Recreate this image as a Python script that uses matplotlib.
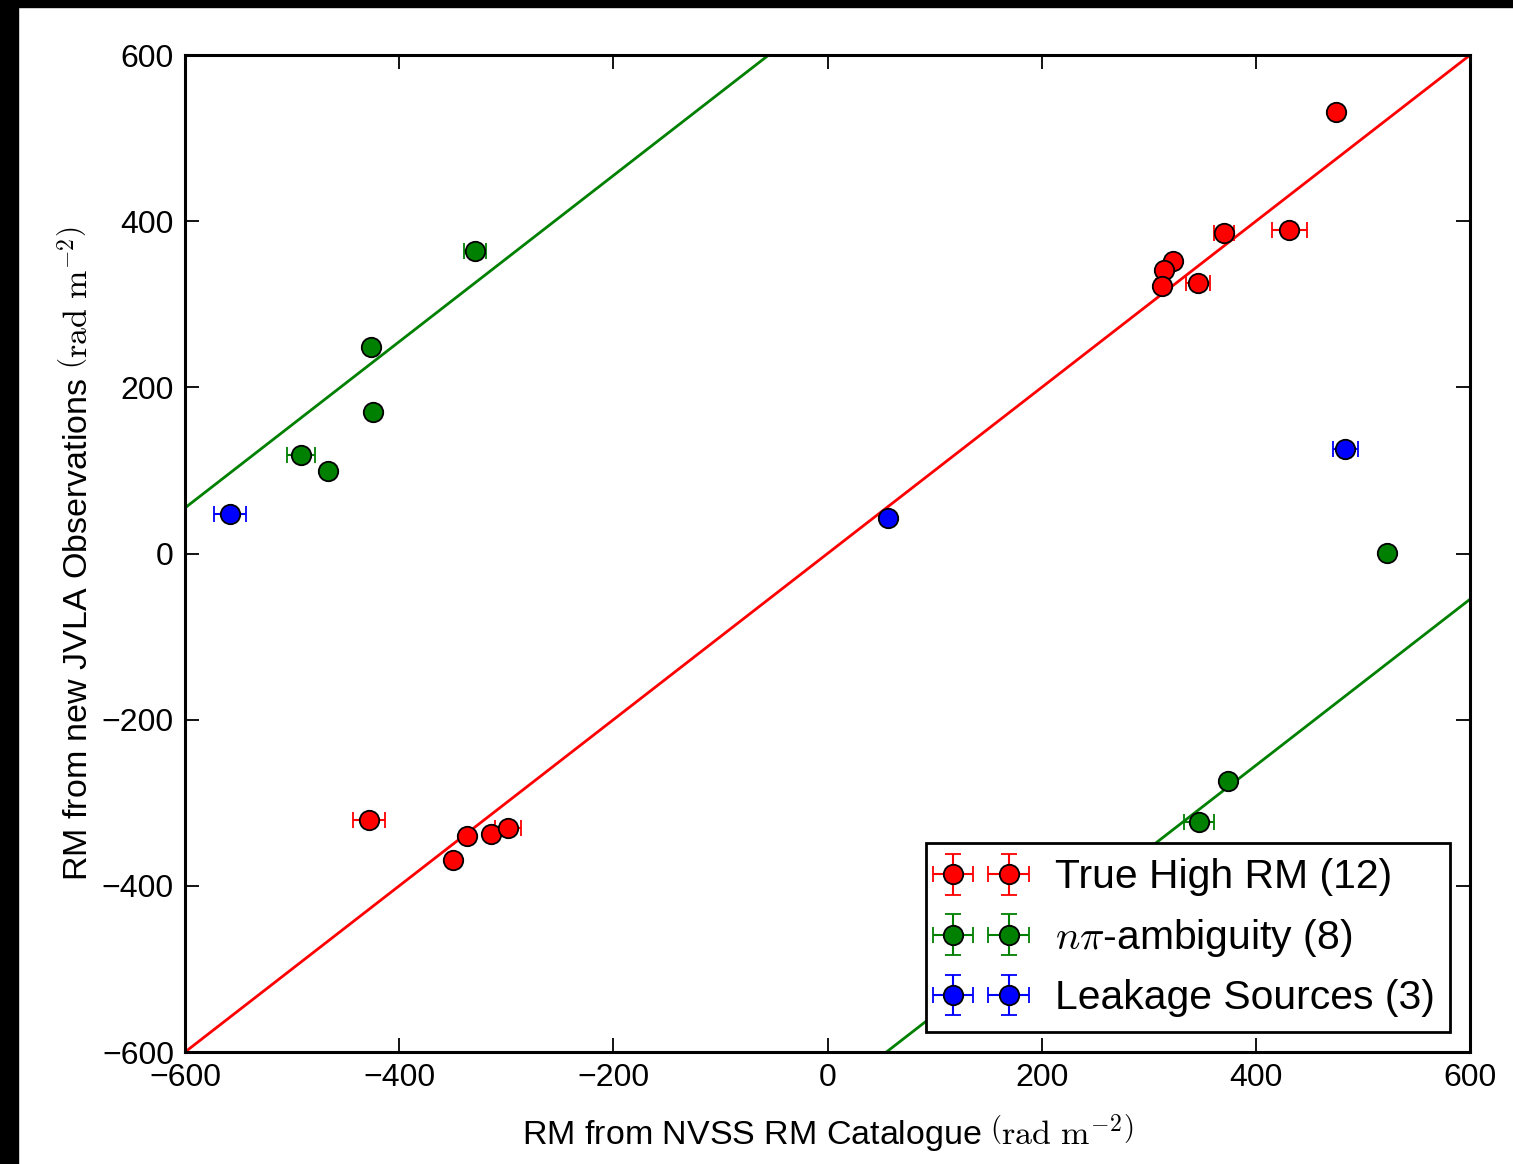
import numpy as np
import matplotlib
matplotlib.use('Agg')
import matplotlib.pyplot as plt
from matplotlib.patches import Rectangle

plt.rcParams['font.family'] = ['Liberation Sans', 'DejaVu Sans']
plt.rcParams['mathtext.fontset'] = 'cm'

# True High RM sources
true_x = [474.9, 370.3, 431.0, 322.7, 314.3, 312.4, 346.0, -428.2, -349.7, -336.6, -314.2, -298.4]
true_y = [531.4, 385.8, 389.4, 352.1, 341.2, 322.0, 325.6, -320.8, -368.9, -340.0, -337.6, -330.4]
true_xerr = [2, 9.3, 16.3, 2, 2, 6, 11, 15, 2, 2, 3, 12]
true_yerr = [2, 3, 3, 2, 2, 2, 2, 3, 2, 2, 2, 2]

# n-pi ambiguity sources
amb_x = [-329.2, -426.3, -424.4, -491.7, -466.5, 522.5, 374.0, 347.0]
amb_y = [364.1, 248.6, 170.3, 118.6, 99.3, 1.0, -273.8, -323.2]
amb_xerr = [10.7, 2, 2, 13, 2, 2, 2, 14]
amb_yerr = [3, 2, 2, 2, 2, 2, 2, 2]

# leakage sources
leak_x = [-558.0, 56.5, 483.3]
leak_y = [47.5, 42.7, 125.8]
leak_xerr = [15, 2, 11.7]
leak_yerr = [2, 2, 2]

npi_offset = 655  # offset of the n*pi ambiguity lines

fig = plt.figure(figsize=(15.13, 11.64), dpi=100)
ax = fig.add_axes([0.1223, 0.0962, 0.9716 - 0.1223, 0.9527 - 0.0962])

xline = np.array([-600, 600])
ax.plot(xline, xline, color='#ff0000', lw=2)
ax.plot(xline, xline + npi_offset, color='#008000', lw=2)
ax.plot(xline, xline - npi_offset, color='#008000', lw=2)

eb_style = dict(fmt='o', ms=14, mec='k', mew=1.3, elinewidth=1.5, capsize=6, capthick=1.5)
ax.errorbar(true_x, true_y, xerr=true_xerr, yerr=true_yerr, color='#ff0000',
            label='True High RM (12)', **eb_style)
ax.errorbar(amb_x, amb_y, xerr=amb_xerr, yerr=amb_yerr, color='#008000',
            label=r'$n\pi$-ambiguity (8)', **eb_style)
ax.errorbar(leak_x, leak_y, xerr=leak_xerr, yerr=leak_yerr, color='#0000ff',
            label='Leakage Sources (3)', **eb_style)

ax.set_xlim(-600, 600)
ax.set_ylim(-600, 600)
ax.set_xticks(np.arange(-600, 601, 200))
ax.set_yticks(np.arange(-600, 601, 200))
ax.tick_params(direction='in', length=10, width=1.3, top=True, right=True,
               labelsize=23, pad=8)
for s in ax.spines.values():
    s.set_linewidth(2.2)

ax.set_xlabel(r'RM from NVSS RM Catalogue $\left(\mathrm{rad\ m}^{-2}\right)$', fontsize=24.5, labelpad=14)
ax.set_ylabel(r'RM from new JVLA Observations $\left(\mathrm{rad\ m}^{-2}\right)$', fontsize=24.5, labelpad=5)

leg = ax.legend(loc='lower right', numpoints=2, fontsize=29.4, fancybox=False,
                framealpha=1, edgecolor='k', borderaxespad=0.48, handlelength=1.97,
                labelspacing=0.5, borderpad=0.37, handletextpad=0.84)
leg.get_frame().set_linewidth(2)

# black border strips from the scanned original
fig.patches.append(Rectangle((0, 0), 18 / 1513, 1, transform=fig.transFigure, color='k', zorder=-1))
fig.patches.append(Rectangle((0, 1 - 7 / 1164), 1, 7 / 1164, transform=fig.transFigure, color='k', zorder=-1))

fig.savefig('out.png', dpi=100)
